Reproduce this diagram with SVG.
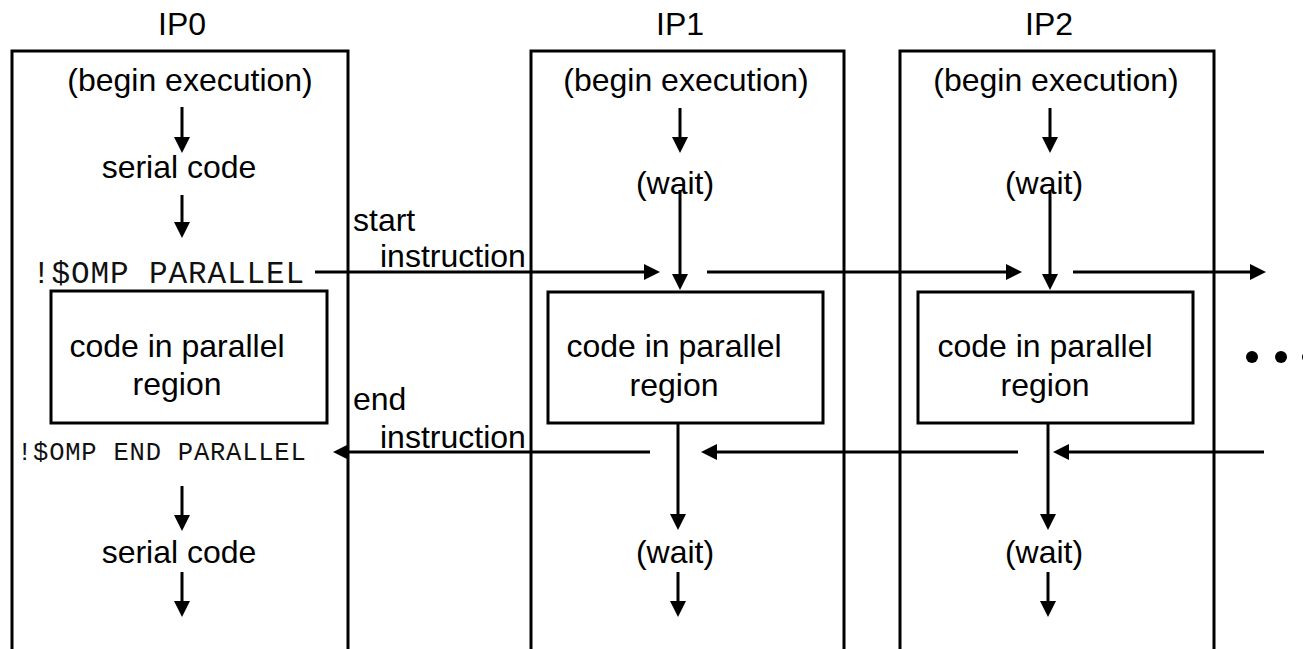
<svg xmlns="http://www.w3.org/2000/svg" width="1303" height="649" viewBox="0 0 1303 649">
  <defs>
    <style>
      .frame { fill: none; stroke: #000; stroke-width: 3; }
      .region { fill: #fff; stroke: #000; stroke-width: 3; }
      .lbl { font-family: "Liberation Sans", Arial, sans-serif; font-size: 32px; fill: #000; }
      .mid { text-anchor: middle; }
      .code { font-family: "Liberation Mono", "Courier New", monospace; fill: #111; }
      .wire { fill: none; stroke: #000; stroke-width: 3; marker-end: url(#head); }
      .dot { fill: #000; }
    </style>
    <marker id="head" markerUnits="userSpaceOnUse" viewBox="0 0 16 16" markerWidth="16" markerHeight="16" refX="10" refY="8" orient="auto">
      <path d="M0,0 L16,8 L0,16 z" fill="#000"/>
    </marker>
  </defs>
  <rect width="1303" height="649" fill="#fff"/>

  <!-- processor IP0 (master) -->
  <g id="ip0">
    <text class="lbl mid" x="182" y="35">IP0</text>
    <rect class="frame" x="12" y="51" width="336" height="640"/>
    <text class="lbl mid" x="190" y="91">(begin execution)</text>
    <text class="lbl mid" x="179" y="178">serial code</text>
    <text class="code" x="32" y="283" font-size="31" letter-spacing="0.9">!$OMP PARALLEL</text>
    <text class="code" x="17" y="460" font-size="25.5" letter-spacing="0.78">!$OMP END PARALLEL</text>
    <text class="lbl mid" x="179" y="563">serial code</text>
  </g>
  <g id="ip0-region">
    <rect class="region" x="51" y="291" width="276" height="132"/>
    <text class="lbl mid" x="177" y="357">code in parallel</text>
    <text class="lbl mid" x="177" y="395">region</text>
  </g>

  <!-- processor IP1 -->
  <g id="ip1">
    <text class="lbl mid" x="680" y="35">IP1</text>
    <rect class="frame" x="531" y="51" width="313" height="640"/>
    <text class="lbl mid" x="686" y="91">(begin execution)</text>
    <text class="lbl mid" x="675" y="194">(wait)</text>
    <text class="lbl mid" x="675" y="563">(wait)</text>
  </g>
  <g id="ip1-region">
    <rect class="region" x="548" y="292" width="275" height="131"/>
    <text class="lbl mid" x="674" y="357">code in parallel</text>
    <text class="lbl mid" x="674" y="396">region</text>
  </g>

  <!-- processor IP2 -->
  <g id="ip2">
    <text class="lbl mid" x="1049" y="35">IP2</text>
    <rect class="frame" x="900" y="51" width="314" height="640"/>
    <text class="lbl mid" x="1056" y="91">(begin execution)</text>
    <text class="lbl mid" x="1044" y="194">(wait)</text>
    <text class="lbl mid" x="1044" y="563">(wait)</text>
  </g>
  <g id="ip2-region">
    <rect class="region" x="918" y="292" width="275" height="131"/>
    <text class="lbl mid" x="1045" y="357">code in parallel</text>
    <text class="lbl mid" x="1045" y="396">region</text>
  </g>

  <!-- further processors -->
  <g id="more">
    <circle class="dot" cx="1252" cy="357" r="6"/>
    <circle class="dot" cx="1281" cy="357" r="6"/>
    <circle class="dot" cx="1308" cy="357" r="6"/>
  </g>

  <!-- instruction labels -->
  <g id="labels">
    <text class="lbl" x="353" y="231">start</text>
    <text class="lbl" x="380" y="267">instruction</text>
    <text class="lbl" x="353" y="410">end</text>
    <text class="lbl" x="380" y="448">instruction</text>
  </g>

  <g id="connectors">
    <!-- IP0 flow -->
    <path class="wire" d="M182,107 V147"/>
    <path class="wire" d="M182,195 V232"/>
    <path class="wire" d="M182,486 V525"/>
    <path class="wire" d="M182,572 V611"/>
    <!-- IP1 flow -->
    <path class="wire" d="M680,108 V147"/>
    <path class="wire" d="M680,190 V284"/>
    <path class="wire" d="M678,423 V524"/>
    <path class="wire" d="M678,572 V611"/>
    <!-- IP2 flow -->
    <path class="wire" d="M1050,108 V147"/>
    <path class="wire" d="M1050,190 V284"/>
    <path class="wire" d="M1048,423 V524"/>
    <path class="wire" d="M1048,572 V611"/>
    <!-- start instruction -->
    <path class="wire" d="M315,272 H654"/>
    <path class="wire" d="M707,272 H1016"/>
    <path class="wire" d="M1073,272 H1260"/>
    <!-- end instruction -->
    <path class="wire" d="M1264,452 H1059"/>
    <path class="wire" d="M1018,452 H707"/>
    <path class="wire" d="M650,452 H339"/>
  </g>
</svg>
